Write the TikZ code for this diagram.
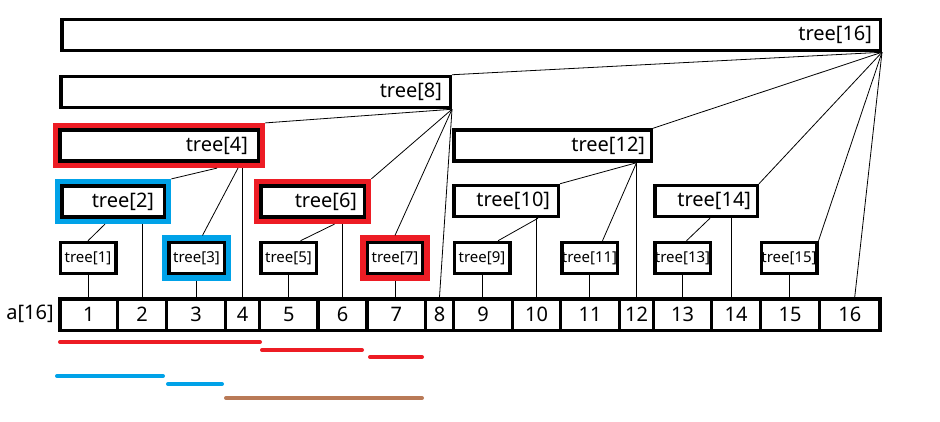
\documentclass[tikz,border=0pt]{standalone}
\usepackage{fontspec}
\setmainfont{Noto Sans}
\usetikzlibrary{fit}
\definecolor{hred}{HTML}{ED1C24}
\definecolor{hblue}{HTML}{00A2E8}
\definecolor{hbrown}{HTML}{B97A57}
\begin{document}
\begin{tikzpicture}[x=1pt,y=-1pt,
  conn/.style={line width=0.8pt},
  bigbox/.style={draw, line width=3.5pt, minimum height=31pt, inner sep=0pt, align=right, font=\fontsize{20}{24}\selectfont},
  smallbox/.style={draw, line width=3.5pt, minimum width=55.5pt, minimum height=31pt, inner sep=0pt, font=\fontsize{15}{18}\selectfont},
  cellbox/.style={draw, line width=3.5pt, minimum height=31.5pt, inner sep=0pt, font=\fontsize{20}{24}\selectfont},
  hlred/.style={draw=hred, line width=5.5pt, inner sep=2.6pt},
  hlblue/.style={draw=hblue, line width=5.5pt, inner sep=2.6pt},
  bar/.style={line width=4pt, line cap=round}]
\useasboundingbox (0,0) rectangle (940,421);

% big boxes
\node[bigbox, minimum width=818.5pt, text width=802pt] (t16) at (471,35) {tree[16]};
\node[bigbox, minimum width=389.5pt, text width=373pt] (t8) at (255.5,92) {tree[8]};
\node[bigbox, minimum width=198.5pt, text width=178pt] (t4) at (159,145.5) {tree[4]};
\node[bigbox, minimum width=197.5pt, text width=185pt] (t12) at (552.5,145.5) {tree[12]};
\node[bigbox, minimum width=102.5pt, text width=82pt] (t2) at (113,201.5) {tree[2]};
\node[bigbox, minimum width=103.5pt, text width=89pt] (t6) at (312.5,201.5) {tree[6]};
\node[bigbox, minimum width=104.5pt, text width=88pt] (t10) at (506,201) {tree[10]};
\node[bigbox, minimum width=102.5pt, text width=90pt] (t14) at (706,201) {tree[14]};

% small boxes
\node[smallbox] (t1) at (88,258) {tree[1]};
\node[smallbox] (t3) at (196.5,258) {tree[3]};
\node[smallbox] (t5) at (288.5,258) {tree[5]};
\node[smallbox] (t7) at (395,258) {tree[7]};
\node[smallbox] (t9) at (482,258) {tree[9]};
\node[smallbox] (t11) at (589.5,258) {tree[11]};
\node[smallbox] (t13) at (682.5,258) {tree[13]};
\node[smallbox] (t15) at (789,258) {tree[15]};

% highlights
\node[hlred, fit=(t4)] (r4) {};
\node[hlred, fit=(t6)] (r6) {};
\node[hlred, fit=(t7)] (r7) {};
\node[hlblue, fit=(t2)] (r2) {};
\node[hlblue, fit=(t3)] (r3) {};

% array
\node[font=\fontsize{20}{24}\selectfont, inner sep=0pt] (alabel) at (30,314) {a[16]};
\foreach \i/\l/\r in {1/60/117.5, 2/117.5/166.5, 3/166.5/225.5, 4/225.5/259.5, 5/259.5/318, 6/318/367, 7/367/425.5, 8/425.5/453.5, 9/453.5/512.5, 10/512.5/560.5, 11/560.5/619.5, 12/619.5/653.5, 13/653.5/711.5, 14/711.5/760.5, 15/760.5/819.5, 16/819.5/880}
  \node[cellbox, minimum width=\r-\l] (c\i) at ({(\l+\r)/2},314.5) {\i};

% connectors from tree[16]
\draw[conn] (t16.south east) -- (t8.north east);
\draw[conn] (t16.south east) -- (t12.north east);
\draw[conn] (t16.south east) -- (t14.north east);
\draw[conn] (t16.south east) -- (t15.north east);
\draw[conn] (t16.south east) -- ([xshift=5pt]c16.north);
% from tree[8]
\draw[conn] (t8.south east) -- (r4.north east);
\draw[conn] (t8.south east) -- (r6.north east);
\draw[conn] (t8.south east) -- (r7.north);
\draw[conn] (t8.south east) -- (c8.north);
% from tree[4]
\draw[conn] ([xshift=58pt]r4.south) -- (r2.north east);
\draw[conn] ([xshift=79pt]r4.south) -- ([xshift=6pt]r3.north);
\draw[conn] (c4.north |- r4.south) -- (c4.north);
% from tree[2]
\draw[conn] ([xshift=-8pt]r2.south) -- (t1.north);
\draw[conn] (c2.north |- r2.south) -- (c2.north);
% from tree[6]
\draw[conn] ([xshift=22pt]r6.south) -- ([xshift=12pt]t5.north);
\draw[conn] (c6.north |- r6.south) -- (c6.north);
% from tree[12]
\draw[conn] (c12.north |- t12.south) -- (t10.north east);
\draw[conn] (c12.north |- t12.south) -- ([xshift=13pt]t11.north);
\draw[conn] (c12.north |- t12.south) -- (c12.north);
% from tree[10]
\draw[conn] ([xshift=32pt]t10.south) -- ([xshift=16pt]t9.north);
\draw[conn] (c10.north |- t10.south) -- (c10.north);
% from tree[14]
\draw[conn] ([xshift=4pt]t14.south) -- ([xshift=4pt]t13.north);
\draw[conn] ([xshift=-5pt]c14.north |- t14.south) -- ([xshift=-5pt]c14.north);
% leaves
\draw[conn] (t1.south) -- (t1.south |- c1.north);
\draw[conn] (c3.north |- r3.south) -- (c3.north);
\draw[conn] (t5.south) -- (t5.south |- c5.north);
\draw[conn] (r7.south) -- (r7.south |- c7.north);
\draw[conn] (t9.south) -- (t9.south |- c9.north);
\draw[conn] (t11.south) -- (t11.south |- c11.north);
\draw[conn] (t13.south) -- (t13.south |- c13.north);
\draw[conn] (t15.south) -- (t15.south |- c15.north);

% range bars
\draw[bar, hred] (60,342) -- (260,342);
\draw[bar, hred] (262,350) -- (362,350);
\draw[bar, hred] (370,357) -- (422,357);
\draw[bar, hblue] (57,376) -- (163,376);
\draw[bar, hblue] (168,384) -- (222,384);
\draw[bar, hbrown] (226,398) -- (422,398);
\end{tikzpicture}
\end{document}
